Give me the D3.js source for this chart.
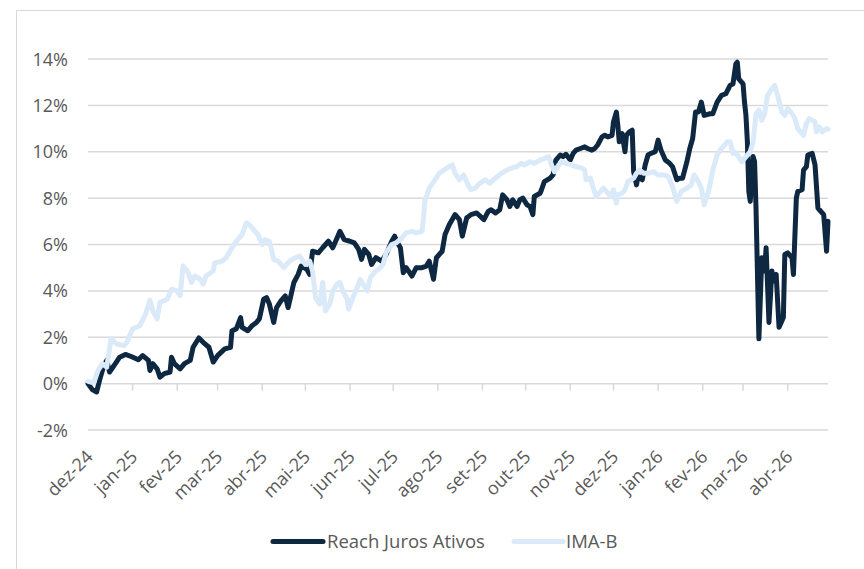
<!DOCTYPE html>
<html>
<head>
<meta charset="utf-8">
<script src="https://cdn.jsdelivr.net/npm/d3@7"></script>
<style>
    body { margin: 0; background: #ffffff; }
    svg { display: block; }
    text { font-family: "Open Sans", sans-serif; fill: #595959; }
</style>
</head>
<body>
<div id="chart"></div>
<script>

// Reach Juros Ativos, cumulative return (%)
let reachSeries = [
    ["2024-12-01", 0.0], ["2024-12-04", -0.26], ["2024-12-07", -0.36], ["2024-12-09", 0.14],
    ["2024-12-12", 0.78], ["2024-12-14", 1.0], ["2024-12-16", 0.5], ["2024-12-20", 0.86],
    ["2024-12-23", 1.14], ["2024-12-27", 1.26], ["2024-12-31", 1.17], ["2025-01-05", 1.03],
    ["2025-01-08", 1.21], ["2025-01-12", 1.0], ["2025-01-13", 0.57], ["2025-01-15", 0.86],
    ["2025-01-18", 0.64], ["2025-01-20", 0.28], ["2025-01-23", 0.43], ["2025-01-27", 0.5],
    ["2025-01-28", 1.14], ["2025-01-30", 0.86], ["2025-02-03", 0.64], ["2025-02-06", 0.86],
    ["2025-02-10", 1.0], ["2025-02-12", 1.57], ["2025-02-16", 1.97], ["2025-02-19", 1.78],
    ["2025-02-23", 1.57], ["2025-02-26", 0.93], ["2025-03-01", 1.21], ["2025-03-06", 1.5],
    ["2025-03-10", 1.57], ["2025-03-11", 2.28], ["2025-03-14", 2.36], ["2025-03-17", 2.85],
    ["2025-03-18", 2.43], ["2025-03-22", 2.28], ["2025-03-25", 2.5], ["2025-03-28", 2.64],
    ["2025-03-30", 2.79], ["2025-04-02", 3.64], ["2025-04-04", 3.71], ["2025-04-06", 3.43],
    ["2025-04-09", 2.64], ["2025-04-11", 3.28], ["2025-04-14", 3.57], ["2025-04-17", 3.78],
    ["2025-04-19", 3.28], ["2025-04-23", 4.36], ["2025-04-26", 4.71], ["2025-04-28", 5.07],
    ["2025-05-02", 4.93], ["2025-05-04", 4.71], ["2025-05-06", 5.71], ["2025-05-10", 5.64],
    ["2025-05-13", 5.86], ["2025-05-17", 6.14], ["2025-05-20", 5.86], ["2025-05-23", 6.28],
    ["2025-05-25", 6.57], ["2025-05-28", 6.21], ["2025-06-01", 6.14], ["2025-06-04", 6.07],
    ["2025-06-07", 5.79], ["2025-06-09", 5.36], ["2025-06-11", 5.79], ["2025-06-14", 5.57],
    ["2025-06-16", 5.14], ["2025-06-19", 5.43], ["2025-06-23", 5.28], ["2025-06-26", 5.57],
    ["2025-06-30", 6.14], ["2025-07-02", 6.36], ["2025-07-04", 6.07], ["2025-07-06", 5.86],
    ["2025-07-08", 4.78], ["2025-07-10", 5.0], ["2025-07-14", 4.64], ["2025-07-17", 5.0],
    ["2025-07-21", 5.0], ["2025-07-24", 5.07], ["2025-07-26", 5.28], ["2025-07-29", 4.5],
    ["2025-07-31", 5.43], ["2025-08-04", 5.71], ["2025-08-06", 6.43], ["2025-08-09", 6.86],
    ["2025-08-13", 7.29], ["2025-08-16", 7.07], ["2025-08-18", 6.36], ["2025-08-21", 7.14],
    ["2025-08-24", 7.29], ["2025-08-28", 7.36], ["2025-09-02", 7.07], ["2025-09-05", 7.43],
    ["2025-09-07", 7.5], ["2025-09-10", 7.36], ["2025-09-13", 7.5], ["2025-09-15", 8.14],
    ["2025-09-18", 7.93], ["2025-09-20", 7.64], ["2025-09-22", 7.93], ["2025-09-25", 7.64],
    ["2025-09-27", 7.93], ["2025-09-29", 8.0], ["2025-10-02", 7.71], ["2025-10-04", 7.64],
    ["2025-10-06", 7.29], ["2025-10-07", 8.07], ["2025-10-11", 8.21], ["2025-10-12", 8.36],
    ["2025-10-14", 8.71], ["2025-10-18", 8.86], ["2025-10-20", 9.0], ["2025-10-22", 9.64],
    ["2025-10-25", 9.86], ["2025-10-27", 9.79], ["2025-10-29", 9.89], ["2025-11-01", 9.64],
    ["2025-11-03", 9.93], ["2025-11-05", 10.07], ["2025-11-08", 10.14], ["2025-11-11", 10.21],
    ["2025-11-13", 10.14], ["2025-11-16", 10.07], ["2025-11-18", 10.14], ["2025-11-20", 10.29],
    ["2025-11-23", 10.64], ["2025-11-25", 10.71], ["2025-11-27", 10.64], ["2025-11-30", 10.71],
    ["2025-12-01", 11.29], ["2025-12-03", 11.71], ["2025-12-04", 11.14], ["2025-12-05", 10.43],
    ["2025-12-07", 10.78], ["2025-12-09", 10.0], ["2025-12-10", 10.71], ["2025-12-12", 10.86],
    ["2025-12-14", 10.93], ["2025-12-15", 9.14], ["2025-12-17", 8.57], ["2025-12-18", 8.93],
    ["2025-12-21", 8.79], ["2025-12-23", 9.43], ["2025-12-25", 9.86], ["2025-12-27", 9.93],
    ["2025-12-30", 10.0], ["2026-01-01", 10.5], ["2026-01-03", 10.07], ["2026-01-06", 9.64],
    ["2026-01-09", 9.5], ["2026-01-11", 9.36], ["2026-01-14", 8.79], ["2026-01-16", 8.86],
    ["2026-01-18", 8.86], ["2026-01-21", 9.57], ["2026-01-23", 10.14], ["2026-01-25", 10.57],
    ["2026-01-27", 11.71], ["2026-01-29", 11.71], ["2026-01-31", 12.14], ["2026-02-02", 11.57],
    ["2026-02-06", 11.64], ["2026-02-08", 11.64], ["2026-02-11", 12.14], ["2026-02-14", 12.43],
    ["2026-02-17", 12.5], ["2026-02-20", 12.86], ["2026-02-22", 12.93], ["2026-02-24", 13.79],
    ["2026-02-25", 13.86], ["2026-02-26", 13.14], ["2026-03-01", 12.93], ["2026-03-02", 12.14],
    ["2026-03-03", 11.57], ["2026-03-04", 10.43], ["2026-03-05", 8.29], ["2026-03-06", 7.86],
    ["2026-03-08", 9.79], ["2026-03-09", 9.57], ["2026-03-10", 7.57], ["2026-03-12", 1.93],
    ["2026-03-14", 5.43], ["2026-03-16", 4.86], ["2026-03-17", 5.86], ["2026-03-19", 2.64],
    ["2026-03-21", 4.86], ["2026-03-22", 4.43], ["2026-03-24", 4.71], ["2026-03-26", 2.43],
    ["2026-03-28", 2.71], ["2026-03-29", 2.86], ["2026-03-30", 5.57], ["2026-04-01", 5.64],
    ["2026-04-04", 5.43], ["2026-04-05", 4.71], ["2026-04-07", 8.0], ["2026-04-08", 8.29],
    ["2026-04-11", 8.36], ["2026-04-12", 9.21], ["2026-04-14", 9.36], ["2026-04-15", 9.86],
    ["2026-04-18", 9.93], ["2026-04-20", 9.43], ["2026-04-22", 7.57], ["2026-04-23", 7.5],
    ["2026-04-26", 7.29], ["2026-04-28", 5.71], ["2026-04-29", 7.0]
];

// IMA-B, cumulative return (%)
let imabSeries = [
    ["2024-12-01", 0.1], ["2024-12-05", 0.03], ["2024-12-08", 0.57], ["2024-12-11", 0.86],
    ["2024-12-14", 0.71], ["2024-12-17", 1.93], ["2024-12-21", 1.71], ["2024-12-26", 1.64],
    ["2024-12-28", 1.78], ["2025-01-01", 2.36], ["2025-01-06", 2.5], ["2025-01-10", 3.0],
    ["2025-01-13", 3.6], ["2025-01-15", 3.14], ["2025-01-18", 2.79], ["2025-01-20", 3.5],
    ["2025-01-25", 3.64], ["2025-01-28", 4.07], ["2025-02-01", 4.0], ["2025-02-03", 3.79],
    ["2025-02-05", 5.07], ["2025-02-08", 4.86], ["2025-02-11", 4.36], ["2025-02-13", 4.64],
    ["2025-02-17", 4.5], ["2025-02-19", 4.29], ["2025-02-21", 4.64], ["2025-02-26", 4.86],
    ["2025-02-27", 5.21], ["2025-03-04", 5.28], ["2025-03-07", 5.43], ["2025-03-11", 5.86],
    ["2025-03-14", 6.14], ["2025-03-18", 6.43], ["2025-03-21", 6.93], ["2025-03-23", 6.86],
    ["2025-03-26", 6.64], ["2025-03-29", 6.43], ["2025-04-01", 6.0], ["2025-04-03", 6.21],
    ["2025-04-06", 6.14], ["2025-04-09", 5.36], ["2025-04-12", 5.28], ["2025-04-16", 5.0],
    ["2025-04-20", 5.28], ["2025-04-24", 5.43], ["2025-04-27", 5.5], ["2025-05-01", 5.14],
    ["2025-05-04", 5.28], ["2025-05-06", 4.86], ["2025-05-08", 3.71], ["2025-05-11", 3.43],
    ["2025-05-13", 4.36], ["2025-05-15", 3.14], ["2025-05-18", 3.43], ["2025-05-20", 4.0],
    ["2025-05-23", 4.29], ["2025-05-25", 4.36], ["2025-05-27", 4.0], ["2025-05-30", 3.64],
    ["2025-05-31", 3.21], ["2025-06-03", 3.71], ["2025-06-06", 4.14], ["2025-06-08", 4.5],
    ["2025-06-10", 4.29], ["2025-06-13", 4.0], ["2025-06-15", 4.57], ["2025-06-17", 4.71],
    ["2025-06-19", 4.86], ["2025-06-22", 5.0], ["2025-06-24", 5.14], ["2025-06-26", 5.64],
    ["2025-06-30", 6.0], ["2025-07-03", 6.07], ["2025-07-07", 6.28], ["2025-07-10", 6.5],
    ["2025-07-14", 6.57], ["2025-07-17", 6.5], ["2025-07-21", 6.57], ["2025-07-22", 7.14],
    ["2025-07-23", 7.86], ["2025-07-26", 8.43], ["2025-07-30", 8.79], ["2025-08-02", 9.07],
    ["2025-08-07", 9.29], ["2025-08-11", 9.43], ["2025-08-13", 9.07], ["2025-08-16", 8.79],
    ["2025-08-19", 9.0], ["2025-08-22", 8.57], ["2025-08-24", 8.36], ["2025-08-27", 8.43],
    ["2025-08-30", 8.64], ["2025-09-03", 8.79], ["2025-09-06", 8.64], ["2025-09-10", 8.86],
    ["2025-09-14", 9.07], ["2025-09-18", 9.21], ["2025-09-21", 9.29], ["2025-09-25", 9.36],
    ["2025-09-28", 9.5], ["2025-09-30", 9.43], ["2025-10-04", 9.57], ["2025-10-07", 9.5],
    ["2025-10-11", 9.64], ["2025-10-14", 9.71], ["2025-10-17", 9.79], ["2025-10-19", 9.43],
    ["2025-10-21", 9.14], ["2025-10-24", 9.43], ["2025-10-26", 9.57], ["2025-10-29", 9.5],
    ["2025-11-02", 9.43], ["2025-11-05", 9.36], ["2025-11-09", 9.29], ["2025-11-11", 9.21],
    ["2025-11-12", 8.79], ["2025-11-15", 8.86], ["2025-11-17", 8.43], ["2025-11-19", 8.07],
    ["2025-11-22", 8.29], ["2025-11-24", 8.43], ["2025-11-26", 8.29], ["2025-11-29", 8.07],
    ["2025-12-01", 8.36], ["2025-12-03", 7.79], ["2025-12-04", 8.14], ["2025-12-07", 8.21],
    ["2025-12-09", 8.36], ["2025-12-11", 8.71], ["2025-12-15", 8.86], ["2025-12-17", 9.07],
    ["2025-12-19", 9.21], ["2025-12-22", 9.07], ["2025-12-25", 9.07], ["2025-12-29", 9.14],
    ["2026-01-01", 9.0], ["2026-01-05", 9.0], ["2026-01-08", 8.93], ["2026-01-11", 8.5],
    ["2026-01-14", 7.86], ["2026-01-17", 8.29], ["2026-01-21", 8.43], ["2026-01-24", 8.57],
    ["2026-01-26", 9.0], ["2026-01-29", 8.71], ["2026-01-31", 8.43], ["2026-02-02", 7.71],
    ["2026-02-05", 8.29], ["2026-02-08", 9.21], ["2026-02-11", 9.86], ["2026-02-14", 10.14],
    ["2026-02-18", 10.43], ["2026-02-20", 10.43], ["2026-02-22", 9.93], ["2026-02-23", 10.0],
    ["2026-02-26", 9.79], ["2026-02-28", 9.57], ["2026-03-02", 9.71], ["2026-03-06", 10.0],
    ["2026-03-08", 10.43], ["2026-03-10", 11.64], ["2026-03-12", 11.79], ["2026-03-14", 11.36],
    ["2026-03-16", 11.64], ["2026-03-18", 12.43], ["2026-03-21", 12.71], ["2026-03-23", 12.86],
    ["2026-03-25", 12.43], ["2026-03-28", 11.71], ["2026-03-30", 11.57], ["2026-04-01", 11.86],
    ["2026-04-04", 11.64], ["2026-04-06", 11.43], ["2026-04-08", 11.0], ["2026-04-12", 10.71],
    ["2026-04-14", 11.21], ["2026-04-16", 11.43], ["2026-04-20", 11.29], ["2026-04-21", 10.86],
    ["2026-04-23", 11.07], ["2026-04-25", 10.86], ["2026-04-28", 11.0], ["2026-04-29", 10.97]
];

let monthLabels = ["dez-24", "jan-25", "fev-25", "mar-25", "abr-25", "mai-25", "jun-25",
    "jul-25", "ago-25", "set-25", "out-25", "nov-25", "dez-25", "jan-26", "fev-26",
    "mar-26", "abr-26"];

let yTicks = [-2, 0, 2, 4, 6, 8, 10, 12, 14];

let seriesNames = ["Reach Juros Ativos", "IMA-B"];
let seriesColors = ["#0e2841", "#dbeaf8"];

let w = 864;
let h = 569;

let parseDate = d3.timeParse("%Y-%m-%d");

let reach = reachSeries.map(d => ({date: parseDate(d[0]), value: d[1]}));
let imab = imabSeries.map(d => ({date: parseDate(d[0]), value: d[1]}));

let svg = d3.select("#chart")
    .append("svg")
    .attr("width", w)
    .attr("height", h);

// outer chart frame (only left and top edges fall inside the picture)
svg.append("rect")
    .attr("x", 16.5)
    .attr("y", 10.5)
    .attr("width", 1000)
    .attr("height", 1000)
    .attr("fill", "none")
    .attr("stroke", "#d9d9d9")
    .attr("stroke-width", 1);

let xScale = d3.scaleTime()
    .domain([parseDate("2024-12-01"), parseDate("2026-04-29")])
    .range([88, 828]);

let yScale = d3.scaleLinear()
    .domain([-2, 14])
    .range([430, 59]);

// gridlines
svg.append("g")
    .selectAll("line")
    .data(yTicks)
    .enter()
    .append("line")
    .attr("x1", 88)
    .attr("x2", 828)
    .attr("y1", d => yScale(d))
    .attr("y2", d => yScale(d))
    .attr("stroke", "#d9d9d9")
    .attr("stroke-width", 1.5);

// y labels
svg.append("g")
    .selectAll("text")
    .data(yTicks)
    .enter()
    .append("text")
    .attr("x", 68)
    .attr("y", d => yScale(d) + 6.5)
    .attr("text-anchor", "end")
    .style("font-size", "18px")
    .text(d => d + "%");

// month ticks on the 0% line
let monthDates = d3.timeMonth.range(parseDate("2024-12-01"), parseDate("2026-04-02"));

svg.append("g")
    .selectAll("line")
    .data(monthDates.slice(1))
    .enter()
    .append("line")
    .attr("x1", d => xScale(d))
    .attr("x2", d => xScale(d))
    .attr("y1", yScale(0))
    .attr("y2", yScale(0) + 7)
    .attr("stroke", "#d9d9d9")
    .attr("stroke-width", 1.5);

svg.append("g")
    .selectAll("text")
    .data(monthDates)
    .enter()
    .append("text")
    .attr("transform", d => "translate(" + (xScale(d) + 6) + ",458) rotate(-45)")
    .attr("text-anchor", "end")
    .style("font-size", "18px")
    .text((d, i) => monthLabels[i]);

let line = d3.line()
    .x(d => xScale(d.date))
    .y(d => yScale(d.value));

let allSeries = [reach, imab];

svg.append("g")
    .selectAll("path")
    .data(allSeries)
    .enter()
    .append("path")
    .attr("d", d => line(d))
    .attr("fill", "none")
    .attr("stroke", (d, i) => seriesColors[i])
    .attr("stroke-width", 5)
    .attr("stroke-linejoin", "round")
    .attr("stroke-linecap", "round");

// legend
let legendX = [273, 514];

let legend = svg.append("g")
    .selectAll("g")
    .data(seriesNames)
    .enter()
    .append("g")
    .attr("transform", (d, i) => "translate(" + legendX[i] + ",541.5)");

legend.append("line")
    .attr("x1", 0)
    .attr("x2", (d, i) => i == 0 ? 50 : 49)
    .attr("stroke", (d, i) => seriesColors[i])
    .attr("stroke-width", 5)
    .attr("stroke-linecap", "round");

legend.append("text")
    .attr("x", (d, i) => i == 0 ? 54 : 52)
    .attr("y", 6.5)
    .style("font-size", "18.5px")
    .text(d => d);

</script>
</body>
</html>
